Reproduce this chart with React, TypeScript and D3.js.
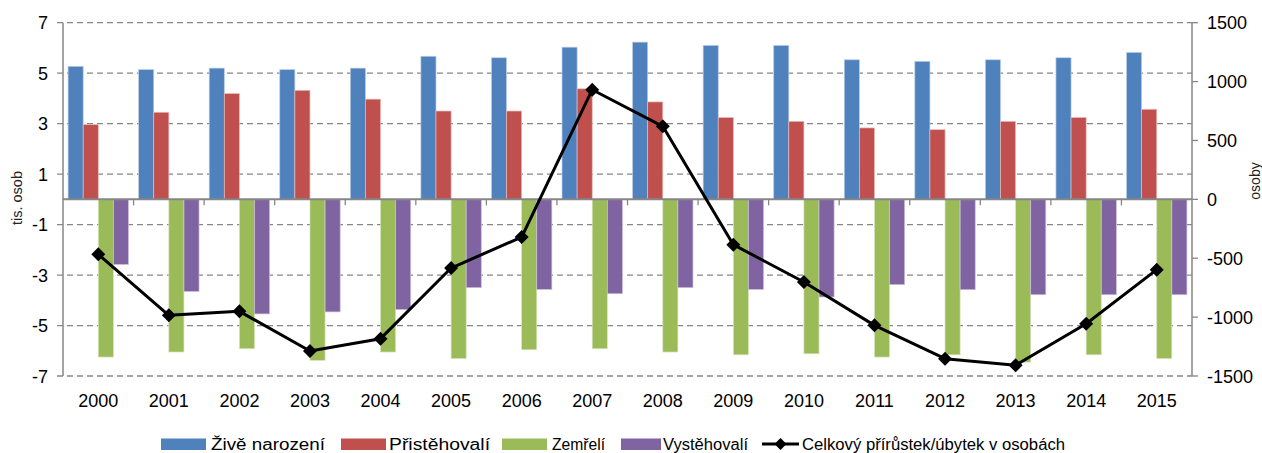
import React, { useEffect, useRef } from 'react';
import * as d3 from 'd3';

const years = ['2000', '2001', '2002', '2003', '2004', '2005', '2006', '2007', '2008', '2009', '2010', '2011', '2012', '2013', '2014', '2015'];
const births = [5.27, 5.14, 5.2, 5.14, 5.2, 5.67, 5.61, 6.03, 6.23, 6.1, 6.1, 5.53, 5.47, 5.53, 5.61, 5.82];
const immigrants = [2.96, 3.45, 4.19, 4.32, 3.97, 3.5, 3.5, 4.38, 3.86, 3.24, 3.09, 2.83, 2.76, 3.09, 3.24, 3.57];
const deaths = [-6.25, -6.05, -5.92, -6.38, -6.05, -6.31, -5.96, -5.92, -6.05, -6.16, -6.12, -6.25, -6.16, -6.45, -6.16, -6.31];
const emigrants = [-2.58, -3.65, -4.54, -4.46, -4.37, -3.5, -3.57, -3.74, -3.5, -3.57, -3.87, -3.38, -3.58, -3.78, -3.78, -3.78];
const totalChange = [-467, -985, -951, -1288, -1183, -583, -320, 931, 620, -385, -702, -1070, -1353, -1409, -1056, -597];

const leftTicks = [-7, -5, -3, -1, 1, 3, 5, 7];
const rightTicks = [-1500, -1000, -500, 0, 500, 1000, 1500];

const barSeries = [
  { name: 'Živě narození', color: '#4f81bd', edge: '#b9cde5', values: births },
  { name: 'Přistěhovalí', color: '#c0504d', edge: '#e6b9b8', values: immigrants },
  { name: 'Zemřelí', color: '#9bbb59', edge: '#d7e4bd', values: deaths },
  { name: 'Vystěhovalí', color: '#8064a2', edge: '#ccc1da', values: emigrants },
];
const lineName = 'Celkový přírůstek/úbytek v osobách';

const App = () => {
  const ref = useRef<SVGSVGElement>(null);

  useEffect(() => {
    const svg = d3.select(ref.current);
    svg.selectAll('*').remove();

    const left = 63;
    const right = 1192;
    const top = 22.7;
    const bottom = 376;
    const font = '"Liberation Sans", Arial, sans-serif';
    const grey = '#868686';

    const x0 = d3.scaleBand().domain(years).range([left, right]);
    const groupW = x0.bandwidth() * 0.856;
    const x1 = d3
      .scaleBand()
      .domain(barSeries.map((s) => s.name))
      .range([0, groupW]);
    const yL = d3.scaleLinear().domain([-7, 7]).range([bottom, top]);
    const yR = d3.scaleLinear().domain([-1500, 1500]).range([bottom, top]);

    // gridlines
    svg
      .append('g')
      .selectAll('line')
      .data(leftTicks)
      .enter()
      .append('line')
      .attr('x1', left - 6)
      .attr('x2', right)
      .attr('y1', (d) => yL(d))
      .attr('y2', (d) => yL(d))
      .attr('stroke', grey)
      .attr('stroke-width', 1.3)
      .attr('stroke-dasharray', '6,4');

    // bars
    const groups = svg
      .append('g')
      .selectAll('g')
      .data(years)
      .enter()
      .append('g')
      .attr('transform', (d) => `translate(${x0(d) + (x0.bandwidth() - groupW) / 2},0)`);

    barSeries.forEach((s) => {
      groups
        .append('rect')
        .attr('x', x1(s.name))
        .attr('width', x1.bandwidth())
        .attr('y', (_, i) => Math.min(yL(0), yL(s.values[i])))
        .attr('height', (_, i) => Math.abs(yL(s.values[i]) - yL(0)))
        .attr('fill', s.color)
        .attr('stroke', s.edge)
        .attr('stroke-width', 0.7);
    });

    // left axis
    svg
      .append('line')
      .attr('x1', left)
      .attr('x2', left)
      .attr('y1', top)
      .attr('y2', bottom)
      .attr('stroke', grey)
      .attr('stroke-width', 1.5);
    svg
      .append('g')
      .selectAll('text')
      .data(leftTicks)
      .enter()
      .append('text')
      .attr('x', left - 15)
      .attr('y', (d) => yL(d) + 6.5)
      .attr('text-anchor', 'end')
      .style('font-family', font)
      .style('font-size', '18px')
      .text((d) => d);

    // right axis
    svg
      .append('line')
      .attr('x1', right)
      .attr('x2', right)
      .attr('y1', top)
      .attr('y2', bottom)
      .attr('stroke', grey)
      .attr('stroke-width', 1.5);
    const rt = svg.append('g').selectAll('g').data(rightTicks).enter().append('g');
    rt.append('line')
      .attr('x1', right)
      .attr('x2', right + 6)
      .attr('y1', (d) => yR(d))
      .attr('y2', (d) => yR(d))
      .attr('stroke', grey)
      .attr('stroke-width', 1.3);
    rt.append('text')
      .attr('x', right + 15)
      .attr('y', (d) => yR(d) + 6.5)
      .style('font-family', font)
      .style('font-size', '18px')
      .text((d) => d);

    // category axis at zero
    svg
      .append('line')
      .attr('x1', left)
      .attr('x2', right)
      .attr('y1', yL(0))
      .attr('y2', yL(0))
      .attr('stroke', grey)
      .attr('stroke-width', 2);
    svg
      .append('g')
      .selectAll('line')
      .data(years.slice(1))
      .enter()
      .append('line')
      .attr('x1', (d) => x0(d))
      .attr('x2', (d) => x0(d))
      .attr('y1', yL(0))
      .attr('y2', yL(0) + 6)
      .attr('stroke', grey)
      .attr('stroke-width', 1.3);
    svg
      .append('g')
      .selectAll('text')
      .data(years)
      .enter()
      .append('text')
      .attr('x', (d) => x0(d) + x0.bandwidth() / 2)
      .attr('y', 406.5)
      .attr('text-anchor', 'middle')
      .style('font-family', font)
      .style('font-size', '18px')
      .text((d) => d);

    // axis titles
    svg
      .append('text')
      .attr('transform', 'translate(22,198) rotate(-90)')
      .attr('text-anchor', 'middle')
      .style('font-family', font)
      .style('font-size', '14.5px')
      .style('fill', '#222')
      .text('tis. osob');
    svg
      .append('text')
      .attr('transform', 'translate(1260,181) rotate(-90)')
      .attr('text-anchor', 'middle')
      .style('font-family', font)
      .style('font-size', '14px')
      .style('fill', '#222')
      .text('osoby');

    // line
    const line = d3
      .line<number>()
      .x((_, i) => x0(years[i]) + x0.bandwidth() / 2)
      .y((d) => yR(d));
    svg
      .append('path')
      .attr('d', line(totalChange))
      .attr('fill', 'none')
      .attr('stroke', '#000')
      .attr('stroke-width', 3)
      .attr('stroke-linejoin', 'round');
    svg
      .append('g')
      .selectAll('path')
      .data(totalChange)
      .enter()
      .append('path')
      .attr('d', 'M0,-7L7,0L0,7L-7,0Z')
      .attr('transform', (d, i) => `translate(${x0(years[i]) + x0.bandwidth() / 2},${yR(d)})`)
      .attr('fill', '#000');

    // legend
    const legendItems = [
      { sx: 161, tx: 211, tw: 114 },
      { sx: 341, tx: 389, tw: 101 },
      { sx: 502, tx: 552, tw: 53 },
      { sx: 621, tx: 663, tw: 85 },
    ];
    const lg = svg.append('g');
    barSeries.forEach((s, i) => {
      const it = legendItems[i];
      lg.append('rect')
        .attr('x', it.sx)
        .attr('y', 438.5)
        .attr('width', i === 3 ? 40 : 45)
        .attr('height', 11.5)
        .attr('fill', s.color);
      lg.append('text')
        .attr('x', it.tx)
        .attr('y', 450)
        .attr('textLength', it.tw)
        .attr('lengthAdjust', 'spacingAndGlyphs')
        .style('font-family', font)
        .style('font-size', '16px')
        .text(s.name);
    });
    lg.append('line')
      .attr('x1', 762)
      .attr('x2', 799)
      .attr('y1', 444)
      .attr('y2', 444)
      .attr('stroke', '#000')
      .attr('stroke-width', 3);
    lg.append('path')
      .attr('d', 'M0,-6L6,0L0,6L-6,0Z')
      .attr('transform', 'translate(780.5,444)')
      .attr('fill', '#000');
    lg.append('text')
      .attr('x', 802)
      .attr('y', 450)
      .attr('textLength', 263)
      .attr('lengthAdjust', 'spacingAndGlyphs')
      .style('font-family', font)
      .style('font-size', '16px')
      .text(lineName);
  }, []);

  return (
    <svg
      ref={ref}
      width={1262}
      height={453}
      style={{ position: 'absolute', left: 0, top: 0, background: '#fff' }}
    ></svg>
  );
};

export default App;
